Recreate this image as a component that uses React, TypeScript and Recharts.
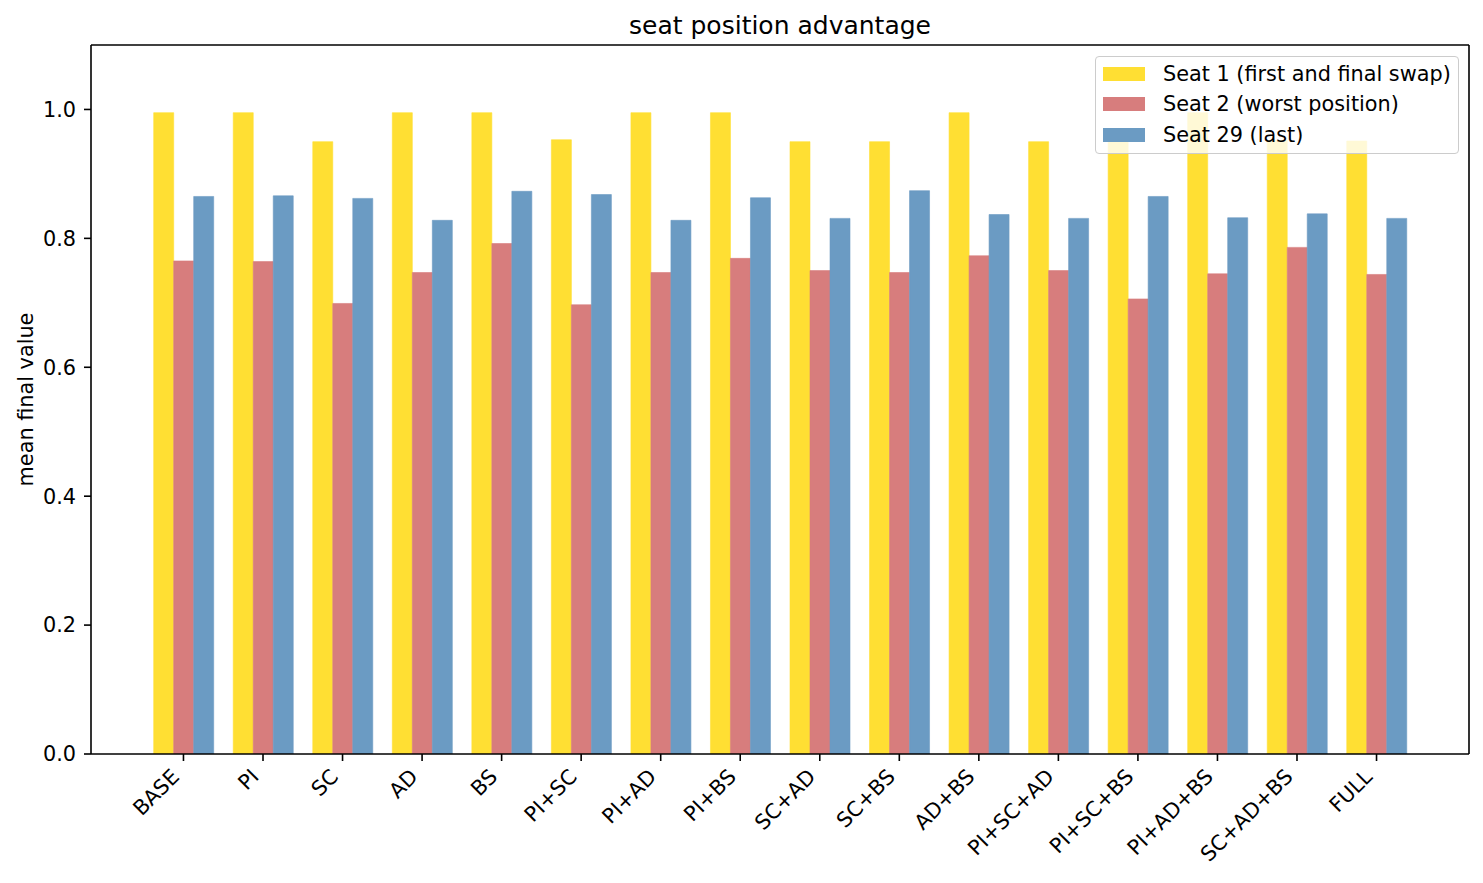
import React from 'react';
import { ComposedChart, Bar, XAxis, YAxis, Legend } from 'recharts';

const categories = ['BASE', 'PI', 'SC', 'AD', 'BS', 'PI+SC', 'PI+AD', 'PI+BS', 'SC+AD', 'SC+BS', 'AD+BS', 'PI+SC+AD', 'PI+SC+BS', 'PI+AD+BS', 'SC+AD+BS', 'FULL'];
const seat1 = [0.995, 0.995, 0.950, 0.995, 0.995, 0.953, 0.995, 0.995, 0.950, 0.950, 0.995, 0.950, 0.952, 0.995, 0.952, 0.951];
const seat2 = [0.765, 0.764, 0.699, 0.747, 0.792, 0.697, 0.747, 0.769, 0.750, 0.747, 0.773, 0.750, 0.706, 0.745, 0.786, 0.744];
const seat29 = [0.865, 0.866, 0.862, 0.828, 0.873, 0.868, 0.828, 0.863, 0.831, 0.874, 0.837, 0.831, 0.865, 0.832, 0.838, 0.831];
const yTicks = [0, 0.2, 0.4, 0.6, 0.8, 1.0];
const seriesNames = ['Seat 1 (first and final swap)', 'Seat 2 (worst position)', 'Seat 29 (last)'];
const seriesColors = ['#FFDF33', '#D77D7D', '#6B9BC3'];

const data = categories.map((c, i) => ({ name: c, s1: seat1[i], s2: seat2[i], s29: seat29[i] }));

const FONT = 'DejaVu Sans, sans-serif';
const FS = 20.8;
const LW = 1.6;

const XTick = (props: any) => {
  const { x, y, payload } = props;
  const ex = x - 3;
  const ey = y + 17;
  return (
    <text x={ex} y={ey} transform={`rotate(-45 ${ex} ${ey})`} textAnchor="end" fontSize={FS} fontFamily={FONT} fill="#000">
      {payload.value}
    </text>
  );
};

const LegendBox = () => (
  <div
    style={{
      boxSizing: 'border-box',
      width: 364,
      height: 98,
      border: '1.5px solid #cccccc',
      borderRadius: 4,
      background: 'rgba(255,255,255,0.8)',
      fontFamily: FONT,
      fontSize: FS,
      color: '#000',
      position: 'relative',
    }}
  >
    {seriesNames.map((n, i) => (
      <div key={n} style={{ position: 'absolute', left: 0, top: 16.5 + i * 30.5 - 12, height: 24, display: 'flex', alignItems: 'center' }}>
        <div style={{ marginLeft: 7, width: 42, height: 14, background: seriesColors[i] }} />
        <span style={{ marginLeft: 18, whiteSpace: 'nowrap', lineHeight: '24px' }}>{n}</span>
      </div>
    ))}
  </div>
);

export default function App() {
  return (
    <div style={{ width: 1475, height: 875, position: 'relative' }}>
      <ComposedChart
        width={1475}
        height={875}
        data={data}
        margin={{ top: 36, right: 13, bottom: 0, left: 0 }}
        barCategoryGap="12.5%"
        barGap={0}
      >
        <XAxis
          dataKey="name"
          height={129}
          padding={{ left: 52.7, right: 52.7 }}
          tick={<XTick />}
          tickSize={7}
          tickMargin={0}
          interval={0}
          axisLine={{ stroke: '#000', strokeWidth: LW }}
          tickLine={{ stroke: '#000', strokeWidth: LW }}
        />
        <XAxis
          xAxisId="top"
          dataKey="name"
          orientation="top"
          height={1}
          tick={false}
          tickLine={false}
          axisLine={{ stroke: '#000', strokeWidth: LW }}
          label={{ value: 'seat position advantage', position: 'top', offset: 10, fontSize: 25, fontFamily: FONT, fill: '#000' }}
        />
        <YAxis
          domain={[0, 1.1]}
          ticks={yTicks}
          width={83}
          tickSize={7}
          tickMargin={8}
          tickFormatter={(v: number) => v.toFixed(1)}
          tick={{ fontSize: FS, fontFamily: FONT, fill: '#000' }}
          axisLine={{ stroke: '#000', strokeWidth: LW }}
          tickLine={{ stroke: '#000', strokeWidth: LW }}
          allowDataOverflow
          label={{
            content: (p: any) => {
              const vb = p.viewBox;
              const cx = 25;
              const cy = vb.y + vb.height / 2;
              return (
                <text x={cx} y={cy} transform={`rotate(-90 ${cx} ${cy})`} textAnchor="middle" fontSize={FS} fontFamily={FONT} fill="#000">
                  mean final value
                </text>
              );
            },
          }}
        />
        <YAxis
          yAxisId="right"
          orientation="right"
          width={1}
          domain={[0, 1.1]}
          tick={false}
          tickLine={false}
          axisLine={{ stroke: '#000', strokeWidth: LW }}
        />
        <Bar dataKey="s1" name={seriesNames[0]} fill={seriesColors[0]} stroke={seriesColors[0]} strokeWidth={0.6} barSize={20} isAnimationActive={false} />
        <Bar dataKey="s2" name={seriesNames[1]} fill={seriesColors[1]} stroke={seriesColors[1]} strokeWidth={0.6} barSize={20} isAnimationActive={false} />
        <Bar dataKey="s29" name={seriesNames[2]} fill={seriesColors[2]} stroke={seriesColors[2]} strokeWidth={0.6} barSize={20} isAnimationActive={false} />
        <Legend
          layout="horizontal"
          verticalAlign="middle"
          align="center"
          content={<LegendBox />}
          wrapperStyle={{ position: 'absolute', left: 1087, top: 48, width: 364, height: 98 }}
        />
      </ComposedChart>
    </div>
  );
}
